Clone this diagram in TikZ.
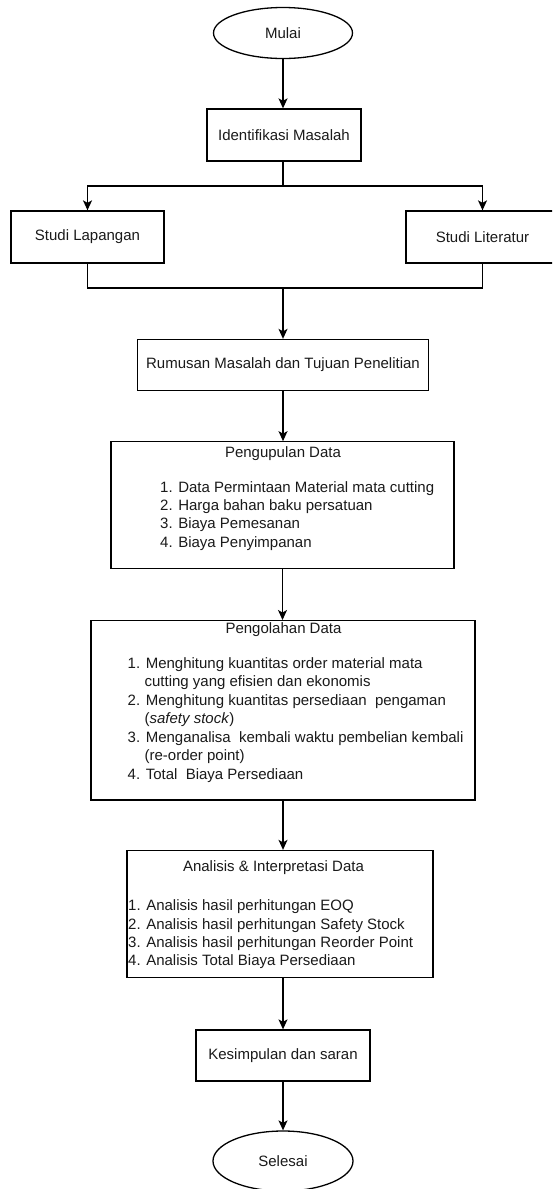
\documentclass[tikz,border=0pt]{standalone}
\usepackage{fontspec}
\setmainfont{Liberation Sans}
\usetikzlibrary{shapes.geometric,arrows.meta}
\definecolor{txt}{HTML}{1A1A1A}
\tikzset{
  base/.style={font=\fontsize{15}{18.4}\selectfont, text=txt},
  boxnode/.style={base, draw=black, line width=1.3pt, rectangle, inner sep=0pt},
  ovalnode/.style={base, draw=black, line width=1.3pt, ellipse, inner sep=0pt},
  label/.style={base, inner sep=0pt},
  item/.style={base, inner sep=0pt, anchor=base west},
  conn/.style={draw=black, line width=1.3pt},
  arr/.style={conn, -{Stealth[length=10pt,width=9pt,inset=2.5pt]}}
}
\begin{document}
\begin{tikzpicture}[x=1pt,y=-1pt]
\useasboundingbox (0,0) rectangle (552,1189);
\clip (0,0) rectangle (552,1189);
\fill[white] (0,0) rectangle (552,1189);

% nodes
\node[ovalnode, minimum width=139pt, minimum height=51pt] (mulai) at (283,33) {Mulai};
\node[boxnode, minimum width=154pt, minimum height=52pt] (ident) at (284,135) {Identifikasi Masalah};
\node[boxnode, minimum width=153pt, minimum height=52pt] (lap) at (87.5,237) {Studi Lapangan};
\node[boxnode, minimum width=153pt, minimum height=52pt] (lit) at (482.5,237) {Studi Literatur};
\node[boxnode, minimum width=291pt, minimum height=51pt] (rum) at (283,365) {Rumusan Masalah dan Tujuan Penelitian};

\node[boxnode, minimum width=343pt, minimum height=127pt] (peng) at (282.5,505.3) {};
\node[label] (pengT) at (283,454) {Pengupulan Data};
\node[item] (p1) at (160,492) {1. Data Permintaan Material mata cutting};
\node[item] (p2) at (160,510.4) {2. Harga bahan baku persatuan};
\node[item] (p3) at (160,528.8) {3. Biaya Pemesanan};
\node[item] (p4) at (160,547.2) {4. Biaya Penyimpanan};

\node[boxnode, minimum width=384pt, minimum height=179.3pt] (olah) at (283,710.3) {};
\node[label] (olahT) at (283.5,630) {Pengolahan Data};
\node[item] (q1) at (127.5,668) {1. Menghitung kuantitas order material mata};
\node[item] (q1b) at (144.4,686.5) {cutting yang efisien dan ekonomis};
\node[item] (q2) at (127.5,705) {2. Menghitung kuantitas persediaan\ \ pengaman};
\node[item] (q2b) at (144.4,723.5) {(\textit{safety stock})};
\node[item] (q3) at (127.5,742) {3. Menganalisa\ \ kembali waktu pembelian kembali};
\node[item] (q3b) at (144.4,760.5) {(re-order point)};
\node[item] (q4) at (127.5,779) {4. Total\ \ Biaya Persediaan};

\node[boxnode, minimum width=306pt, minimum height=127pt] (anal) at (280,914) {};
\node[label] (analT) at (273.5,868) {Analisis \& Interpretasi Data};
\node[item] (r1) at (128,910.7) {1. Analisis hasil perhitungan EOQ};
\node[item] (r2) at (128,929) {2. Analisis hasil perhitungan Safety Stock};
\node[item] (r3) at (128,947.3) {3. Analisis hasil perhitungan Reorder Point};
\node[item] (r4) at (128,965.6) {4. Analisis Total Biaya Persediaan};

\node[boxnode, minimum width=174pt, minimum height=51pt] (kes) at (283,1055.5) {Kesimpulan dan saran};
\node[ovalnode, minimum width=140pt, minimum height=60pt] (sel) at (283,1161) {Selesai};

% connectors
\coordinate (split) at (283,186);
\coordinate (join) at (283,288);
\draw[arr] (mulai.south) -- (mulai.south |- ident.north);
\draw[conn] (mulai.south |- ident.south) -- (split);
\draw[arr] (split) -| (lap.north);
\draw[arr] (split) -| (lit.north);
\draw[conn] (lap.south) |- (join);
\draw[conn] (lit.south) |- (join);
\draw[arr] (join) -- (join |- rum.north);
\draw[arr] (rum.south) -- (rum.south |- peng.north);
\draw[arr] (peng.south) -- (peng.south |- olah.north);
\draw[arr] (olah.south) -- (olah.south |- anal.north);
\draw[arr] (kes.north |- anal.south) -- (kes.north);
\draw[arr] (kes.south) -- (sel.north);
\end{tikzpicture}
\end{document}
